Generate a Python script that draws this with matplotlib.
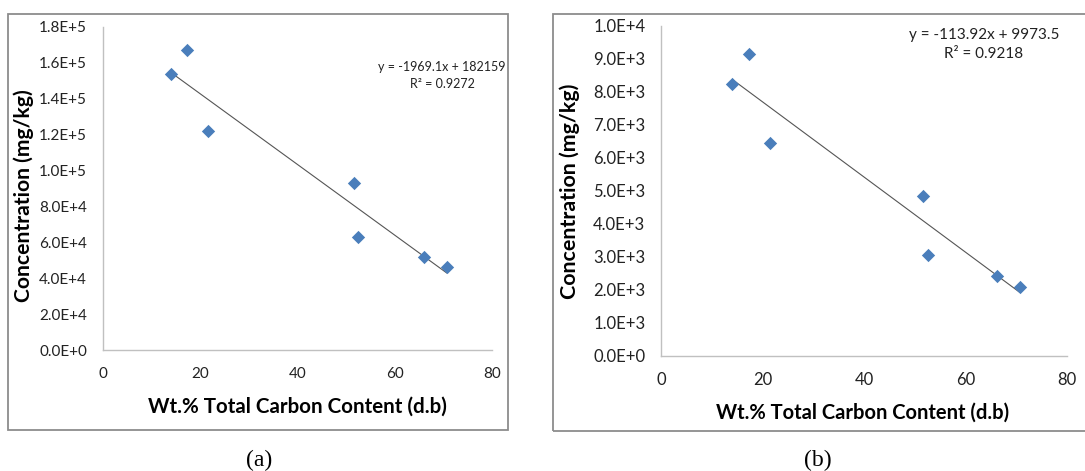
import numpy as np
import matplotlib
matplotlib.use("Agg")
import matplotlib.pyplot as plt
from matplotlib.patches import Rectangle

plt.rcParams['font.family'] = ['Lato', 'DejaVu Sans']

# carbon content (same samples in both panels)
carbon = [14.0, 17.2, 21.5, 51.6, 52.5, 66.1, 70.7]

# panel (a)
conc_a = [1.538e5, 1.672e5, 1.220e5, 9.29e4, 6.27e4, 5.17e4, 4.63e4]
fit_a = (-1969.1, 182159)
eq_a = "y = -1969.1x + 182159\nR² = 0.9272"
yticks_a = [0, 2e4, 4e4, 6e4, 8e4, 1e5, 1.2e5, 1.4e5, 1.6e5, 1.8e5]
ylabels_a = ["0.0E+0", "2.0E+4", "4.0E+4", "6.0E+4", "8.0E+4", "1.0E+5",
             "1.2E+5", "1.4E+5", "1.6E+5", "1.8E+5"]

# panel (b)
conc_b = [8.24e3, 9.15e3, 6.46e3, 4.85e3, 3.04e3, 2.41e3, 2.07e3]
fit_b = (-113.92, 9973.5)
eq_b = "y = -113.92x + 9973.5\nR² = 0.9218"
yticks_b = [0, 1e3, 2e3, 3e3, 4e3, 5e3, 6e3, 7e3, 8e3, 9e3, 1e4]
ylabels_b = ["0.0E+0", "1.0E+3", "2.0E+3", "3.0E+3", "4.0E+3", "5.0E+3",
             "6.0E+3", "7.0E+3", "8.0E+3", "9.0E+3", "1.0E+4"]

xticks = [0, 20, 40, 60, 80]

MARKER = '#4a7ebb'
SPINE = '#c0c0c0'


def draw_panel(ax, y, fit, eq, yticks, ylabels, ymax, fs, lab_fs, eq_fs, eq_pos, ylab_pos, xlab_pos):
    ax.scatter(carbon, y, marker='D', s=46, color=MARKER, zorder=3, linewidths=0)
    xs = np.array([min(carbon), max(carbon)])
    ax.plot(xs, fit[0] * xs + fit[1], color='#555555', linewidth=0.8, zorder=2)
    ax.set_xlim(0, 80)
    ax.set_ylim(0, ymax)
    ax.set_xticks(xticks)
    ax.set_yticks(yticks)
    ax.set_yticklabels(ylabels)
    ax.tick_params(length=0, labelsize=fs, colors='#222222')
    ax.tick_params(axis='y', pad=11.5)
    ax.tick_params(axis='x', pad=12)
    for s in ['top', 'right']:
        ax.spines[s].set_visible(False)
    for s in ['left', 'bottom']:
        ax.spines[s].set_color(SPINE)
        ax.spines[s].set_linewidth(1.0)
    ax.set_ylabel("Concentration (mg/kg)", fontsize=lab_fs[0], fontweight='bold', va='center')
    ax.set_xlabel("Wt.% Total Carbon Content (d.b)", fontsize=lab_fs[1], fontweight='bold', va='center')
    ax.yaxis.set_label_coords(*ylab_pos)
    ax.xaxis.set_label_coords(*xlab_pos)
    ax.text(eq_pos[0], eq_pos[1], eq, transform=ax.transAxes, ha='center', va='center',
            fontsize=eq_fs, linespacing=1.45, color='#222222')


fig = plt.figure(figsize=(10.85, 4.71), dpi=100)

ax1 = fig.add_axes([0.0949, 0.2569, 0.3585, 0.6858])
draw_panel(ax1, conc_a, fit_a, eq_a, yticks_a, ylabels_a, 1.8e5, 11, (15.2, 14.8), 9,
           (0.8715, 0.85), (-0.205, 0.477), (0.501, -0.176))

ax2 = fig.add_axes([0.6095, 0.2448, 0.3739, 0.7000])
draw_panel(ax2, conc_b, fit_b, eq_b, yticks_b, ylabels_b, 1e4, 12, (15.4, 14.5), 11,
           (0.795, 0.945), (-0.225, 0.50), (0.495, -0.174))

fig.patches.append(Rectangle((0.00737, 0.0870), 0.4608, 0.8832, transform=fig.transFigure,
                             fill=False, edgecolor='#8c8c8c', linewidth=1.3))
fig.patches.append(Rectangle((0.5097, 0.0849), 0.52, 0.8854, transform=fig.transFigure,
                             fill=False, edgecolor='#8c8c8c', linewidth=1.3))

fig.text(0.2387, 0.0234, "(a)", ha='center', va='center', fontsize=17, family='Liberation Serif')
fig.text(0.754, 0.0234, "(b)", ha='center', va='center', fontsize=17, family='Liberation Serif')

fig.savefig("out.png", dpi=100)
